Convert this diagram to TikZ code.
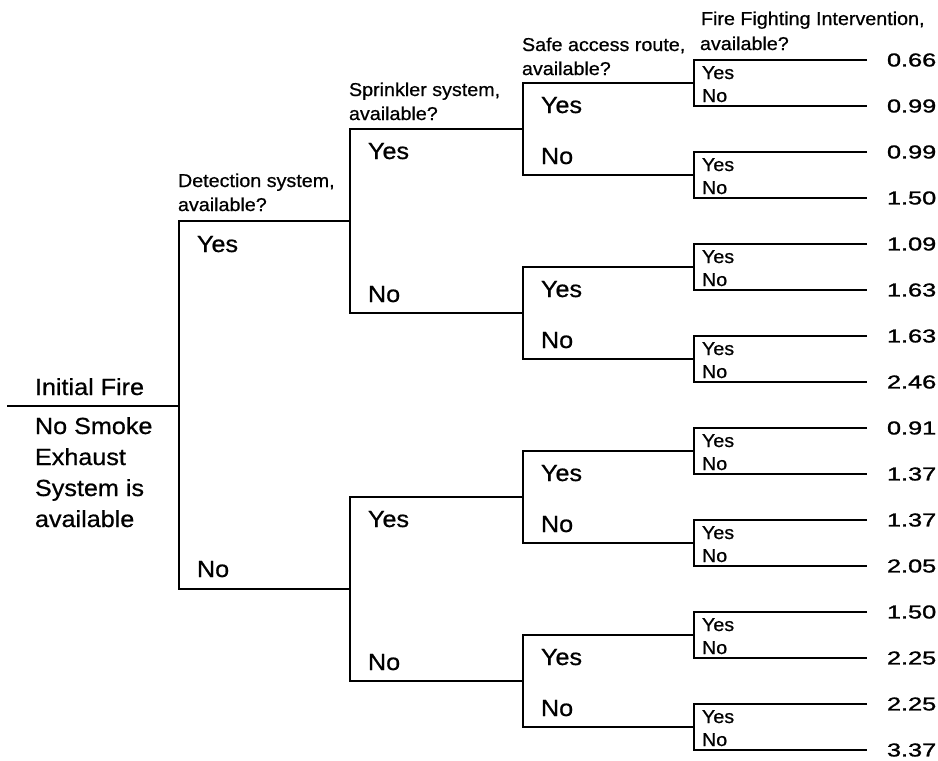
\documentclass[tikz,border=0pt]{standalone}
\usepackage{fontspec}
\setmainfont{Liberation Sans}
\newfontfamily\heavyfont{Liberation Sans}[FakeBold=0.7]
\newfontfamily\numfont{Liberation Sans}[FakeBold=1.2]
\usepackage{graphicx}
\newcommand\bigtxt[1]{\scalebox{1.08}[1]{\heavyfont\fontsize{23.3}{28}\selectfont #1}}
\newcommand\smltxt[1]{\scalebox{1.06}[1]{\heavyfont\fontsize{18.6}{22}\selectfont #1}}
\newcommand\numtxt[1]{\scalebox{1.36}[1]{\numfont\fontsize{18.6}{22}\selectfont #1}}
\begin{document}
\begin{tikzpicture}[x=1pt,y=-1pt,line width=1.9pt,line join=miter,
  lbl/.style={anchor=base west,inner sep=0pt,outer sep=0pt},
  val/.style={anchor=west,inner sep=0pt,outer sep=0pt}]
\useasboundingbox (0,0) rectangle (938,761);
% level 0 / 1
\coordinate (root) at (7,406);
\coordinate (n0) at (179,406);
\coordinate (na) at (350,221);
\coordinate (nb) at (350,589);
\draw (root) -- (n0);
\draw (na) -| (n0) |- (nb);
% level 2 ends
\coordinate (m1) at (523,129);
\coordinate (m2) at (523,313);
\coordinate (m3) at (523,497);
\coordinate (m4) at (523,681);
\draw (m1) -| (na) |- (m2);
\draw (m3) -| (nb) |- (m4);
% level 3
\foreach \i/\y in {1/129,2/313,3/497,4/681}{
  \pgfmathtruncatemacro\ka{2*\i-1}
  \pgfmathtruncatemacro\kb{2*\i}
  \coordinate (k\ka) at (694,\y-46);
  \coordinate (k\kb) at (694,\y+46);
  \draw (k\ka) -| (m\i) |- (k\kb);
  \node[lbl] (l3y\i) at (541,\y-16) {\bigtxt{Yes}};
  \node[lbl] (l3n\i) at (541,\y+35) {\bigtxt{No}};
}
% level 4
\foreach \i/\y/\va/\vb in {1/83/0.66/0.99,2/175/0.99/1.50,3/267/1.09/1.63,4/359/1.63/2.46,
  5/451/0.91/1.37,6/543/1.37/2.05,7/635/1.50/2.25,8/727/2.25/3.37}{
  \coordinate (e\i a) at (867,\y-23);
  \coordinate (e\i b) at (867,\y+23);
  \draw (e\i a) -| (k\i) |- (e\i b);
  \node[lbl] (l4y\i) at (702,\y-4) {\smltxt{Yes}};
  \node[lbl] (l4n\i) at (702,\y+19) {\smltxt{No}};
  \node[val] (v\i a) at (887,\y-23) {\numtxt{\va}};
  \node[val] (v\i b) at (887,\y+23) {\numtxt{\vb}};
}
% level 1 / 2 labels
\node[lbl] (l1y) at (197,252) {\bigtxt{Yes}};
\node[lbl] (l1n) at (197,577) {\bigtxt{No}};
\node[lbl] (l2y1) at (368,159) {\bigtxt{Yes}};
\node[lbl] (l2n1) at (368,302) {\bigtxt{No}};
\node[lbl] (l2y2) at (368,527) {\bigtxt{Yes}};
\node[lbl] (l2n2) at (368,670) {\bigtxt{No}};
% root texts
\node[lbl] (t0) at (35,395) {\bigtxt{Initial Fire}};
\node[lbl] (t1) at (35,434) {\bigtxt{No Smoke}};
\node[lbl] (t2) at (35,465) {\bigtxt{Exhaust}};
\node[lbl] (t3) at (35,496) {\bigtxt{System is}};
\node[lbl] (t4) at (35,527) {\bigtxt{available}};
% headers
\node[lbl] (h1a) at (178,187) {\smltxt{Detection system,}};
\node[lbl] (h1b) at (178,211) {\smltxt{available?}};
\node[lbl] (h2a) at (349,96) {\smltxt{Sprinkler system,}};
\node[lbl] (h2b) at (349,120) {\smltxt{available?}};
\node[lbl] (h3a) at (522,51) {\smltxt{Safe access route,}};
\node[lbl] (h3b) at (522,75) {\smltxt{available?}};
\node[lbl] (h4a) at (701,25) {\smltxt{Fire Fighting Intervention,}};
\node[lbl] (h4b) at (700,50) {\smltxt{available?}};
\end{tikzpicture}
\end{document}
